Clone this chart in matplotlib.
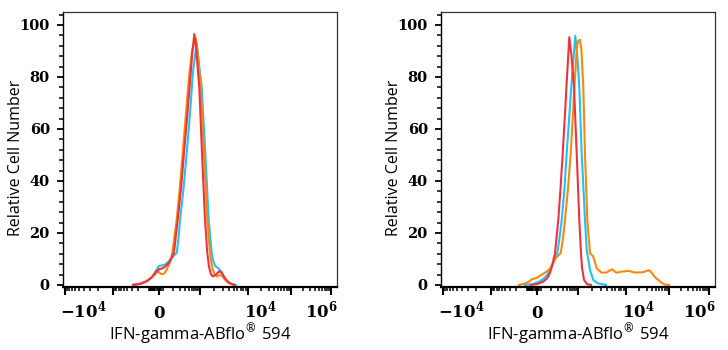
import numpy as np
import matplotlib
matplotlib.use("Agg")
import matplotlib.pyplot as plt
from matplotlib.ticker import MultipleLocator, FixedLocator, NullFormatter
import matplotlib.transforms as mtransforms

# x values are positions on the biexponential display axis (channel units, 0..274)
# y values are relative cell number (%)

# --- left panel ---
left_red_x = [70, 78, 84, 89, 93, 96, 99, 102, 106, 109, 111, 114.7, 118, 121, 124, 127, 129.5, 131.3,
              133, 135, 136.3, 139, 142, 144.3, 146, 148, 150, 153, 156.3, 159, 162, 166, 171]
left_red_y = [0, 0.5, 1.5, 3, 5, 6, 6.3, 7, 8.5, 10.5, 12.5, 25, 37, 50.7, 64, 78, 90, 96.5,
              92, 82, 76, 50.7, 25, 12.3, 7, 4, 3.3, 4, 5.3, 4.5, 2.5, 0.8, 0]

left_orange_x = [70, 78, 84, 89, 93, 95, 98, 101, 104, 107, 109.3, 113.7, 116.7, 119.7, 123, 126, 129,
                 132.7, 135, 137.7, 141, 144.3, 147, 149, 151, 154, 156.3, 159, 162, 166, 172]
left_orange_y = [0, 0.5, 1.5, 3, 4.5, 5.2, 4.2, 4.3, 6, 9, 12.3, 25, 37, 50.7, 66, 80, 90,
                 95, 88, 76, 50.7, 25, 12.3, 7, 4.5, 3.2, 3.8, 3.5, 2, 0.7, 0]

left_cyan_x = [70, 78, 84, 89, 93, 96, 98.7, 102, 105, 108, 110, 113.7, 115.5, 117, 120.5, 123.7, 127,
               130, 133.7, 136, 138.7, 142.3, 145.7, 148.7, 150.5, 152, 155, 158.7, 161, 164, 168, 173]
left_cyan_y = [0, 0.5, 1.5, 3, 5.5, 7.3, 7.5, 7.8, 8.8, 10.2, 11, 12.3, 18, 25, 37, 50.7, 66,
               82, 93, 85, 76, 50.7, 25, 12.3, 9, 7.4, 6.5, 5, 3, 1.5, 0.5, 0]

# --- right panel ---
right_red_x = [90, 96, 102, 106, 109, 111.5, 114, 117.3, 119.5, 121.7, 124, 126, 128.3,
               130.5, 133, 135.7, 138.3, 140, 141, 143, 146, 150]
right_red_y = [0, 0.3, 1.2, 2.5, 4.6, 8, 12.2, 25, 37, 50.6, 66, 80, 95.3,
               88, 76.3, 50.6, 25, 12.2, 6.7, 2, 0.3, 0]

right_cyan_x = [84, 92, 98, 103, 106, 109, 112, 116.3, 118.5, 120.7, 123.5, 125.7, 128.5, 131, 134.3,
                136.3, 138.3, 140.7, 144, 145.7, 149, 152.3, 157, 165]
right_cyan_y = [0, 0.3, 1.2, 2.5, 3.8, 5.5, 8, 12.2, 18, 25, 37, 50.6, 66, 80, 95.8,
                88, 76.3, 50.6, 25, 13.5, 5.8, 1.9, 0.6, 0]

right_orange_x = [78, 84, 88, 91, 95, 99, 103, 106, 109, 112, 115, 119.7, 122, 124, 127, 129.7, 132,
                  134, 136, 137.3, 139, 140.5, 142.3, 144, 146.3, 149, 152.3, 155.7, 160.7, 165.7,
                  168.5, 171.3, 173.5, 175.7, 179, 182.3, 185, 188.3, 191, 194, 198, 202.3, 205.5,
                  208.3, 210.5, 212.3, 214.5, 217.3, 220.5, 224, 228]
right_orange_y = [0, 0.5, 1.3, 2.2, 2.6, 3.5, 4.5, 5.2, 6.2, 8.5, 10.5, 12.2, 18, 25, 37, 50.6, 66,
                  80, 92, 94, 94.3, 90, 76.3, 50.6, 25, 12.2, 10.9, 6.4, 4.7, 4.8,
                  5.5, 6.0, 5.2, 4.7, 5.0, 5.2, 5.3, 5.4, 5.0, 4.8, 4.8, 4.9, 5.4,
                  5.6, 4.8, 3.8, 2.8, 1.9, 0.8, 0.1, 0]

x_label = r"IFN-gamma-ABflo$^{\circledR}$ 594"
y_label = "Relative Cell Number"
tick_texts = [r"$\mathbf{-10^{4}}$", r"$\mathbf{0}$", r"$\mathbf{10^{4}}$", r"$\mathbf{10^{6}}$"]
tick_text_pos = [20, 96, 197, 258]

RED = "#ee3340"
ORANGE = "#f7880f"
CYAN = "#25c0ef"

plt.rcParams["mathtext.fontset"] = "dejavuserif"

# positions of decades on the display axis
neg_dec = {2: 93, 3: 86, 4: 50, 5: 1.7}
pos_dec = {2: 99, 3: 137, 4: 185, 5: 228, 6: 268}
major_pos = [1.7, 50, 96, 137, 185, 228, 268]


def minor_positions():
    out = []
    for n in (2, 3, 4):
        p, q = neg_dec[n], neg_dec[n + 1]
        out += [p + (q - p) * np.log10(k) for k in range(2, 10)]
    for n in (2, 3, 4, 5):
        p, q = pos_dec[n], pos_dec[n + 1]
        out += [p + (q - p) * np.log10(k) for k in range(2, 10)]
    out += list(np.arange(89, 100, 1.5))
    return out


fig = plt.figure(figsize=(7.28, 3.5), dpi=100)

panels = [
    (63 / 728, [(left_cyan_x, left_cyan_y, CYAN), (left_orange_x, left_orange_y, ORANGE),
                (left_red_x, left_red_y, RED)]),
    (441 / 728, [(right_cyan_x, right_cyan_y, CYAN), (right_orange_x, right_orange_y, ORANGE),
                 (right_red_x, right_red_y, RED)]),
]

for left, curves in panels:
    ax = fig.add_axes([left, 63 / 350, 274 / 728, 275 / 350])
    for xs, ys, c in curves:
        ax.plot(xs, ys, color=c, lw=1.5, solid_joinstyle="round")
    ax.set_xlim(0, 274)
    ax.set_ylim(-0.8, 105)

    ax.yaxis.set_major_locator(MultipleLocator(20))
    ax.yaxis.set_minor_locator(MultipleLocator(4))
    ax.xaxis.set_major_locator(FixedLocator(major_pos))
    ax.xaxis.set_minor_locator(FixedLocator(minor_positions()))
    ax.xaxis.set_major_formatter(NullFormatter())
    ax.tick_params(axis="y", which="major", length=4.5, width=1.3, pad=5)
    ax.tick_params(axis="y", which="minor", length=2.6, width=1.1)
    ax.tick_params(axis="x", which="major", length=5.5, width=1.5)
    ax.tick_params(axis="x", which="minor", length=2.7, width=1.1)
    for lab in ax.get_yticklabels():
        lab.set_fontfamily("DejaVu Serif")
        lab.set_fontweight("bold")
        lab.set_fontsize(10.5)

    for s in ("top", "right"):
        ax.spines[s].set_linewidth(0.9)
        ax.spines[s].set_color("#333333")
    ax.spines["left"].set_linewidth(1.0)
    ax.spines["bottom"].set_linewidth(1.6)

    trans = mtransforms.blended_transform_factory(ax.transData, ax.transAxes)
    for t, p in zip(tick_texts, tick_text_pos):
        ax.text(p, -0.112, t, transform=trans, ha="center", va="baseline", fontsize=12)

    ax.set_xlabel(x_label, fontfamily="Open Sans", fontsize=12, labelpad=15.5)
    ax.set_ylabel(y_label, fontfamily="Open Sans", fontsize=11.5)
    ax.yaxis.set_label_coords(-0.142, 0.47)

fig.savefig("out.png", dpi=100)
